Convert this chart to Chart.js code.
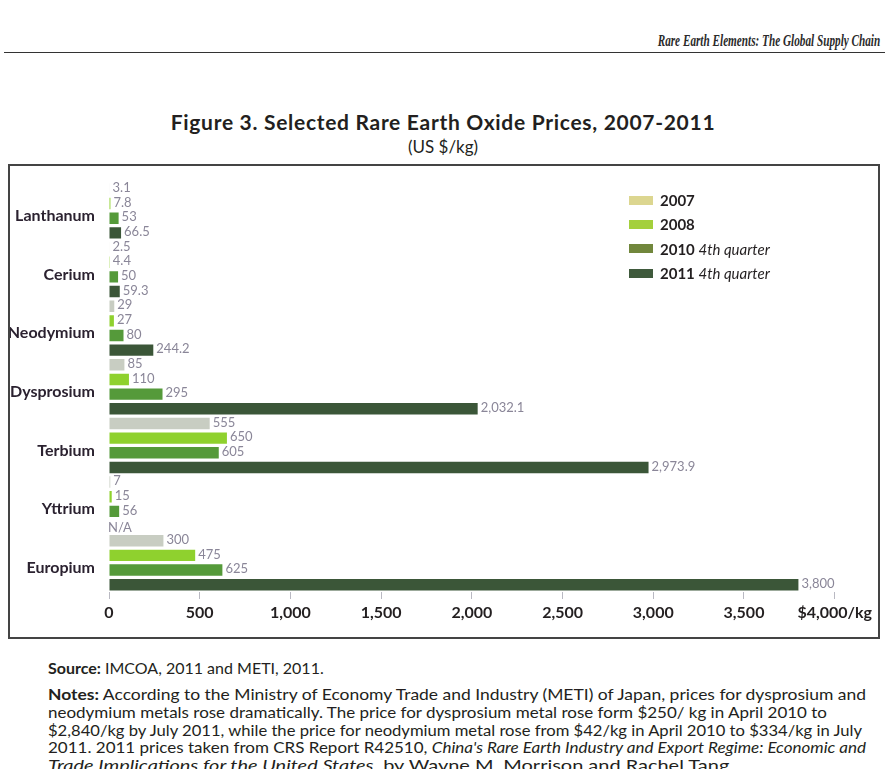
<!DOCTYPE html>
<html>
<head>
<meta charset="utf-8">
<script src="https://cdn.jsdelivr.net/npm/chart.js@4.4.1/dist/chart.umd.min.js"></script>
<style>
  html, body { margin: 0; padding: 0; background: #fff; }
  body { width: 885px; height: 769px; position: relative; overflow: hidden; font-family: Lato, "Open Sans", sans-serif; color: #231f20; }
  .header { position: absolute; right: 5px; top: 31px; line-height: 20px; font: italic bold 17px "Liberation Serif", "DejaVu Serif", serif; transform: scaleX(0.66); transform-origin: right center; white-space: nowrap; color: #2a2a2a; }
  .rule { position: absolute; left: 4px; right: 0; top: 52px; height: 0; border-top: 1.6px solid #333; }
  .title { position: absolute; left: 8px; width: 870px; top: 110px; line-height: 24px; text-align: center; font-weight: bold; font-size: 21px; letter-spacing: 0.7px; white-space: nowrap; }
  .sub { position: absolute; left: 8px; width: 870px; top: 136px; line-height: 22px; text-align: center; font-size: 17px; }
  .box { position: absolute; left: 8px; top: 164px; width: 868px; height: 471px; border: 2px solid #444; box-sizing: content-box; }
  .chartWrap { position: absolute; left: 10px; top: 166px; width: 866px; height: 470px; }
  .legend { position: absolute; left: 629px; top: 188px; font: bold 15px Lato, sans-serif; color: #231f20; }
  .legend div { height: 24.3px; display: flex; align-items: center; white-space: nowrap; }
  .legend span.sw { display: inline-block; width: 24px; height: 9px; margin-right: 7px; }
  .legend i { font-weight: normal; }
  .source { position: absolute; left: 48px; top: 658px; line-height: 20px; font-size: 16px; white-space: nowrap; }
  .notes { position: absolute; left: 48px; top: 685px; font-size: 16px; }
  .notes div { line-height: 17.8px; height: 17.8px; white-space: nowrap; transform-origin: left center; width: max-content; }
</style>
</head>
<body>
<div class="header">Rare Earth Elements: The Global Supply Chain</div>
<div class="rule"></div>
<div class="title">Figure 3. Selected Rare Earth Oxide Prices, 2007-2011</div>
<div class="sub">(US $/kg)</div>
<div class="box"></div>
<div class="chartWrap"><canvas id="priceChart"></canvas></div>
<div class="legend" id="legend"></div>
<div class="source"><b>Source:</b> IMCOA, 2011 and METI, 2011.</div>
<div class="notes" id="notes">
  <div><b>Notes:</b> According to the Ministry of Economy Trade and Industry (METI) of Japan, prices for dysprosium and</div>
  <div>neodymium metals rose dramatically. The price for dysprosium metal rose form $250/ kg in April 2010 to</div>
  <div>$2,840/kg by July 2011, while the price for neodymium metal rose from $42/kg in April 2010 to $334/kg in July</div>
  <div>2011. 2011 prices taken from CRS Report R42510, <i>China's Rare Earth Industry and Export Regime: Economic and</i></div>
  <div><i>Trade Implications for the United States</i>, by Wayne M. Morrison and Rachel Tang.</div>
</div>

<script>
// data
const elements = ["Lanthanum", "Cerium", "Neodymium", "Dysprosium", "Terbium", "Yttrium", "Europium"];
const seriesYears = ["2007", "2008", "2010", "2011"];
const seriesNotes = ["", "", "4th quarter", "4th quarter"];
const prices2007 = [3.1, 2.5, 29, 85, 555, 7, 300];
const prices2008 = [7.8, 4.4, 27, 110, 650, 15, 475];
const prices2010q4 = [53, 50, 80, 295, 605, 56, 625];
const prices2011q4 = [66.5, 59.3, 244.2, 2032.1, 2973.9, null, 3800]; // Yttrium N/A
const xTicks = [0, 500, 1000, 1500, 2000, 2500, 3000, 3500, 4000];

const barColors = ["#c8cdc2", "#8fd12e", "#559a3a", "#3b5638"];
const legendColors = ["#dcd690", "#a4d03c", "#71873c", "#3f5a3c"];
const axisFont = 'Lato, "Open Sans", sans-serif';

// widths of the note lines in the scan (ragged right)
const noteWidths = [818, 779, 814, 818, 686];
[...document.querySelectorAll("#notes div")].forEach((line, i) => {
    let w = line.getBoundingClientRect().width;
    line.style.transform = "scaleX(" + (noteWidths[i] / w) + ")";
});

let ctx = document.getElementById("priceChart");

// value labels at the end of each bar
const barLabels = {
    id: "barLabels",
    afterDatasetsDraw(chart) {
        const c = chart.ctx;
        const xScale = chart.scales.x;
        c.save();
        c.font = '13px Lato, "Open Sans", sans-serif';
        c.fillStyle = "#8a8698";
        c.textBaseline = "middle";
        c.textAlign = "left";
        chart.data.datasets.forEach((ds, i) => {
            chart.getDatasetMeta(i).data.forEach((bar, j) => {
                let v = ds.data[j];
                if (v === null) {
                    c.fillText("N/A", xScale.getPixelForValue(0) - 1, bar.y + 2);
                } else {
                    c.fillText(v.toLocaleString("en-US"), bar.x + 3, bar.y - 1);
                }
            });
        });
        c.restore();
    }
};

const seriesData = [prices2007, prices2008, prices2010q4, prices2011q4];

let chart = new Chart(ctx, {
    type: "bar",
    data: {
        labels: elements,
        datasets: seriesData.map((d, i) => ({
            label: seriesYears[i] + (seriesNotes[i] ? " " + seriesNotes[i] : ""),
            data: d,
            backgroundColor: barColors[i],
            borderWidth: 0,
            categoryPercentage: 1,
            barPercentage: 0.78
        }))
    },
    options: {
        indexAxis: "y",
        responsive: true,
        maintainAspectRatio: false,
        animation: false,
        layout: { padding: { top: 8, right: 28, left: 0, bottom: 0 } },
        plugins: {
            legend: { display: false },
            tooltip: { enabled: false }
        },
        scales: {
            x: {
                min: 0,
                max: 4000,
                afterFit: (s) => { s.height = 44; },
                afterBuildTicks: (s) => { s.ticks = xTicks.map(v => ({ value: v })); },
                border: { display: false },
                grid: { drawOnChartArea: false, drawTicks: true, tickLength: 7, color: "#b9b9c2", lineWidth: 1 },
                ticks: {
                    padding: 4,
                    color: "#231f20",
                    font: { family: axisFont, size: 16, weight: "bold" },
                    callback: (v) => v === 4000 ? "$4,000/kg" : v.toLocaleString("en-US")
                }
            },
            y: {
                afterFit: (s) => { s.width = 99; },
                border: { display: false },
                grid: { display: false },
                ticks: {
                    padding: 6,
                    labelOffset: 5,
                    color: "#2b2230",
                    font: { family: axisFont, size: 16, weight: "bold" }
                }
            }
        }
    },
    plugins: [barLabels]
});

// legend built from the datasets
let legendEl = document.getElementById("legend");
chart.data.datasets.forEach((ds, i) => {
    let row = document.createElement("div");
    row.innerHTML = '<span class="sw" style="background:' + legendColors[i] + '"></span>' +
        seriesYears[i] + (seriesNotes[i] ? '&nbsp;<i>' + seriesNotes[i] + '</i>' : '');
    legendEl.appendChild(row);
});
</script>
</body>
</html>
